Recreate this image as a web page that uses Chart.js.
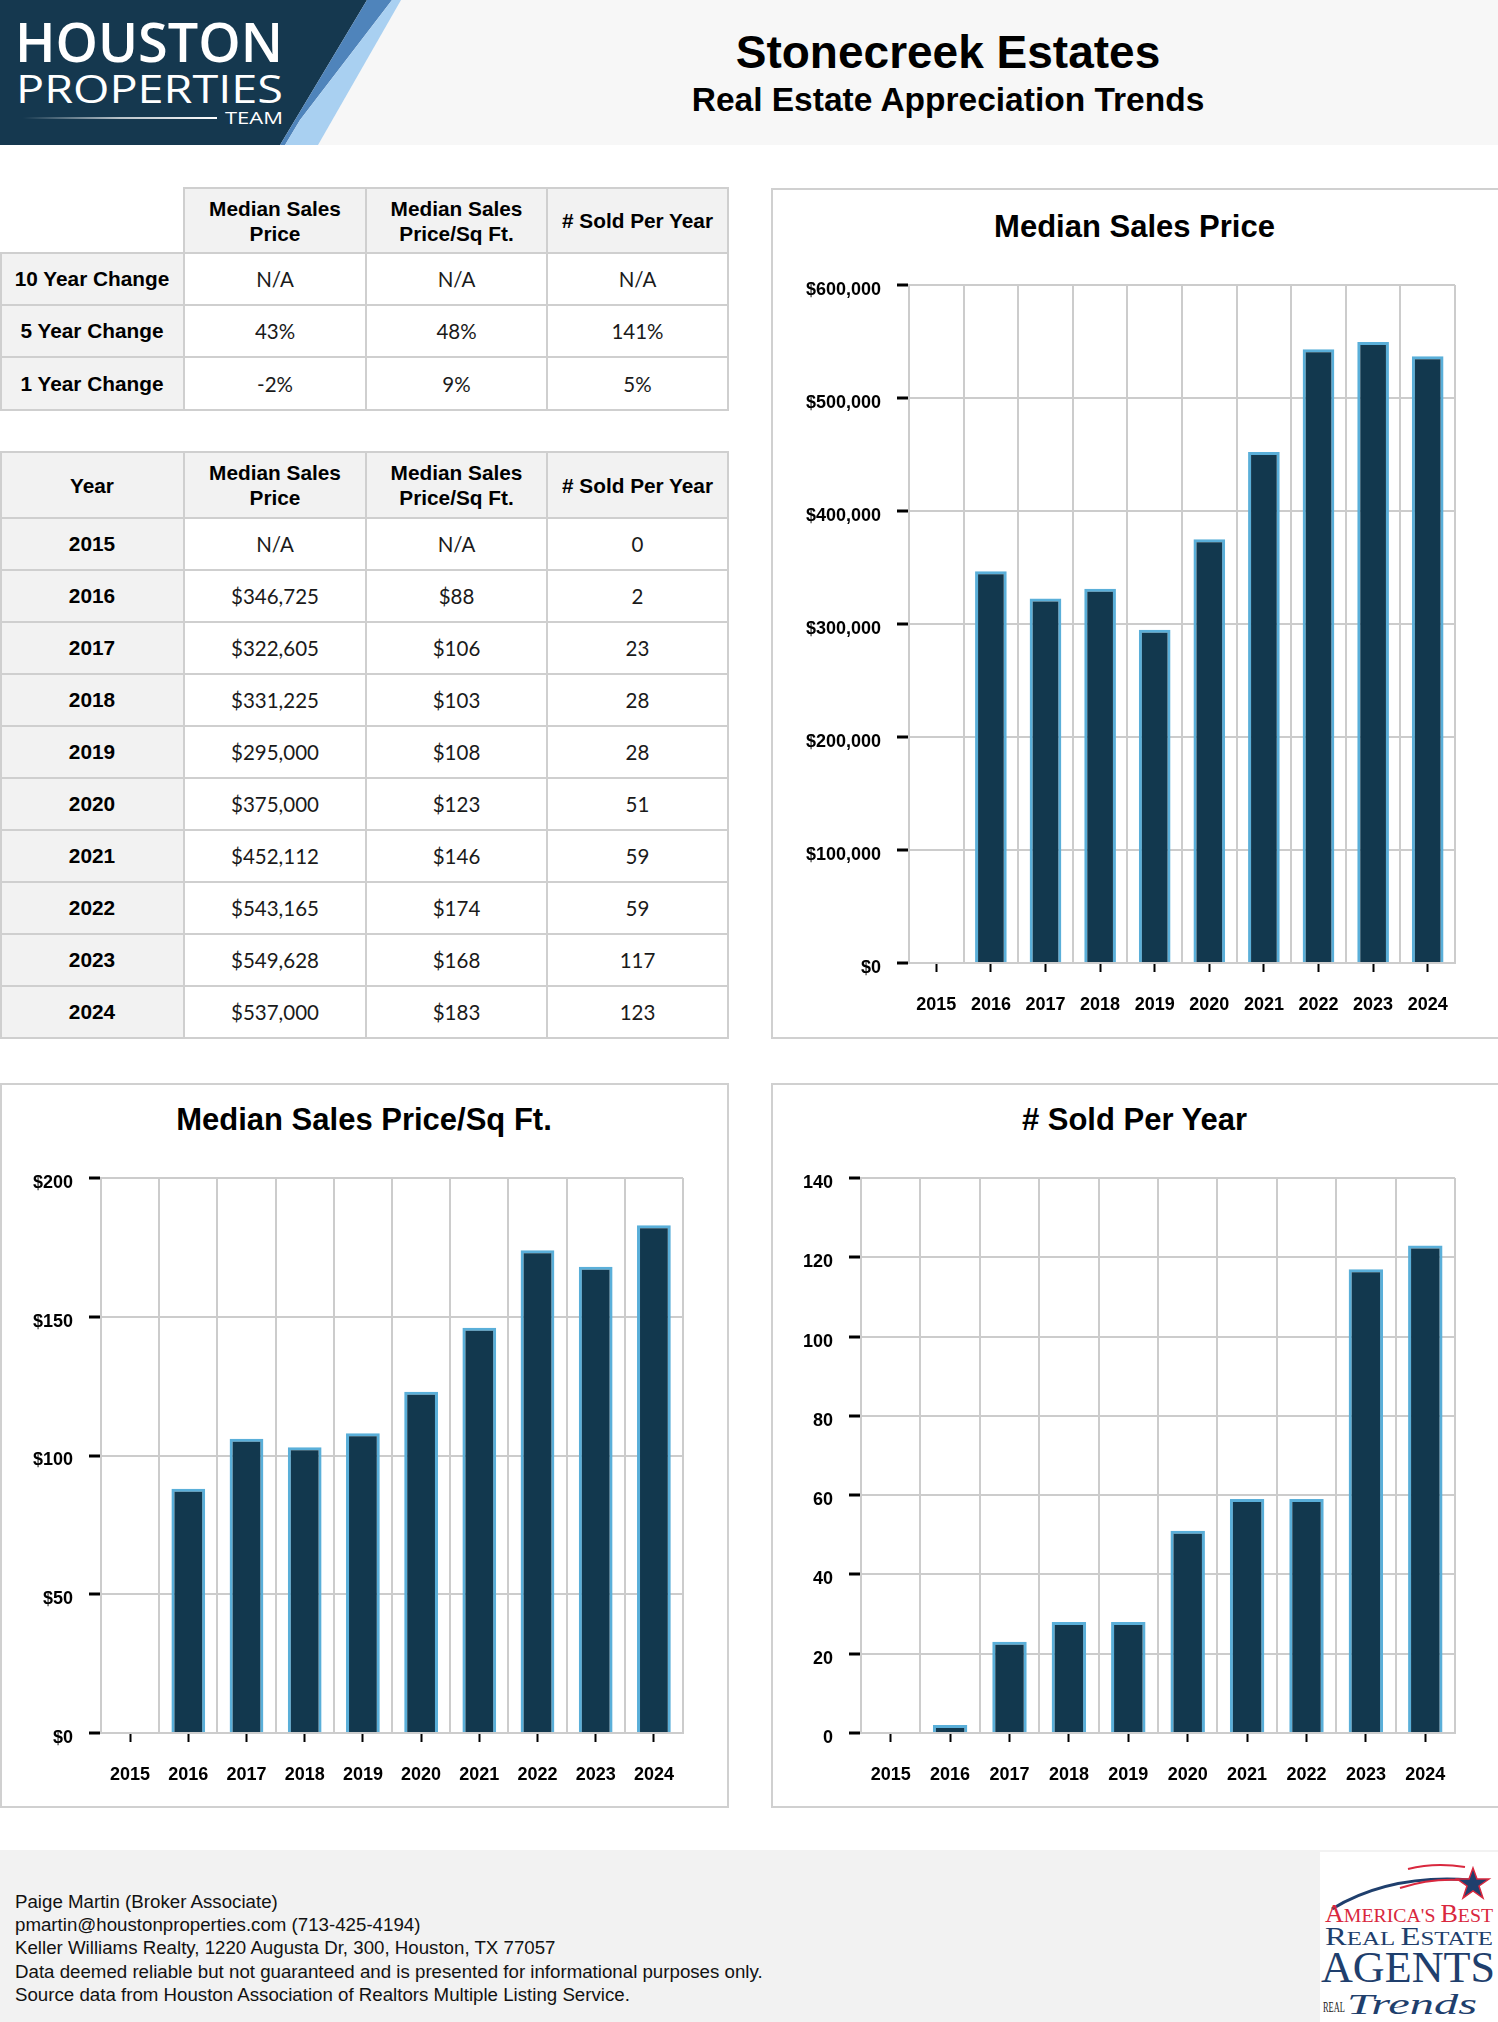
<!DOCTYPE html>
<html><head><meta charset="utf-8">
<script src="https://cdn.jsdelivr.net/npm/chart.js@4.4.1/dist/chart.umd.min.js"></script>
<style>
html,body{margin:0;padding:0;background:#fff;}
body{width:1498px;height:2022px;position:relative;overflow:hidden;font-family:"Liberation Sans",Arial,sans-serif;color:#000;}
.abs{position:absolute;}
.cell{position:absolute;display:flex;align-items:center;justify-content:center;text-align:center;box-sizing:border-box;}
.hd{font-weight:bold;font-size:20.8px;line-height:25px;color:#000;}
.lab{font-weight:bold;font-size:20.8px;color:#000;}
.val{font-family:Lato,"Liberation Sans",sans-serif;font-size:20.5px;color:#1a1a1a;}
.ln{position:absolute;background:#cfcfcf;}
.panel{position:absolute;border:2px solid #d0d0d0;box-sizing:border-box;background:#fff;}
.ptitle{position:absolute;font-weight:bold;font-size:31px;line-height:31px;text-align:center;color:#000;white-space:nowrap;}
#footer{left:0;top:1850px;width:1498px;height:172px;background:#f2f2f2;}
#foottext{left:15px;top:1890px;font-size:18.7px;line-height:23.2px;color:#111;white-space:nowrap;}
</style></head><body>

<div class="abs" style="left:0;top:0;width:1498px;height:145px;background:#f7f7f7;"></div>
<svg class="abs" style="left:0;top:0" width="402" height="145" viewBox="0 0 402 145">
  <defs>
    <linearGradient id="lg" x1="0" x2="1" y1="0" y2="0">
      <stop offset="0" stop-color="#ffffff" stop-opacity="0"/>
      <stop offset="0.5" stop-color="#ffffff" stop-opacity="0.7"/>
      <stop offset="1" stop-color="#ffffff" stop-opacity="1"/>
    </linearGradient>
  </defs>
  <polygon points="0,0 367,0 280,145 0,145" fill="#15384f"/>
  <polygon points="367,0 392,0 300,120 285,145 280,145" fill="#4f84bb"/>
  <polygon points="392,0 401,0 318,145 285,145 300,120" fill="#a9d0f1"/>
  <text x="15" y="62" font-family="'Open Sans',Lato,sans-serif" font-weight="600" font-size="54" fill="#fff" textLength="268" lengthAdjust="spacingAndGlyphs">HOUSTON</text>
  <text x="16" y="103" font-family="'Open Sans',Lato,sans-serif" font-weight="400" font-size="39" fill="#fff" textLength="267" lengthAdjust="spacingAndGlyphs">PROPERTIES</text>
  <rect x="23" y="117" width="194" height="2" fill="url(#lg)"/>
  <text x="225" y="124" font-family="'Open Sans',Lato,sans-serif" font-weight="400" font-size="17" fill="#fff" textLength="58" lengthAdjust="spacingAndGlyphs">TEAM</text>
</svg>

<div class="abs" style="left:400px;top:29px;width:1096px;text-align:center;font-weight:bold;font-size:46px;line-height:46px;">Stonecreek Estates</div>
<div class="abs" style="left:400px;top:83px;width:1096px;text-align:center;font-weight:bold;font-size:33.5px;line-height:33.5px;">Real Estate Appreciation Trends</div>

<div id="tables"></div>

<div class="panel" style="left:771px;top:188px;width:740px;height:851px;"></div>
<div class="panel" style="left:0px;top:1083px;width:729px;height:725px;"></div>
<div class="panel" style="left:771px;top:1083px;width:740px;height:725px;"></div>

<div class="ptitle" style="left:771px;top:211px;width:727px;">Median Sales Price</div>
<div class="ptitle" style="left:0px;top:1104px;width:728px;">Median Sales Price/Sq Ft.</div>
<div class="ptitle" style="left:771px;top:1104px;width:727px;"># Sold Per Year</div>

<canvas id="c1" width="727" height="850" style="position:absolute;left:771px;top:188px;"></canvas>
<canvas id="c2" width="728" height="724" style="position:absolute;left:0px;top:1083px;"></canvas>
<canvas id="c3" width="727" height="724" style="position:absolute;left:771px;top:1083px;"></canvas>

<div id="footer" class="abs"></div>
<div id="foottext" class="abs">Paige Martin (Broker Associate)<br>pmartin@houstonproperties.com (713-425-4194)<br>Keller Williams Realty, 1220 Augusta Dr, 300, Houston, TX 77057<br>Data deemed reliable but not guaranteed and is presented for informational purposes only.<br>Source data from Houston Association of Realtors Multiple Listing Service.</div>

<svg class="abs" style="left:1320px;top:1852px" width="178" height="170" viewBox="0 0 178 170">
  <rect width="178" height="170" fill="#ffffff"/>
  <path d="M12 57 Q 70 22 150 28" stroke="#1f3f6d" stroke-width="3" fill="none"/>
  <path d="M88 17 Q 115 10 145 15" stroke="#d9283e" stroke-width="2" fill="none"/>
  <path d="M80 36 Q 110 26 142 28" stroke="#d9283e" stroke-width="2" fill="none"/>
  <polygon points="153,16 157,27 169,27 159,34 163,46 153,39 143,46 147,34 137,27 149,27" fill="#1f3f6d" stroke="#d9283e" stroke-width="1.5"/>
  <text x="5" y="70" font-family="'Liberation Serif',serif" fill="#d9283e" textLength="168" lengthAdjust="spacingAndGlyphs"><tspan font-size="25">A</tspan><tspan font-size="19">MERICA'S </tspan><tspan font-size="25">B</tspan><tspan font-size="19">EST</tspan></text>
  <text x="5" y="93" font-family="'Liberation Serif',serif" fill="#1f3f6d" textLength="168" lengthAdjust="spacingAndGlyphs"><tspan font-size="25">R</tspan><tspan font-size="19">EAL </tspan><tspan font-size="25">E</tspan><tspan font-size="19">STATE</tspan></text>
  <text x="1" y="130" font-family="'Liberation Serif',serif" font-size="44" fill="#1f3f6d" textLength="174" lengthAdjust="spacingAndGlyphs">AGENTS</text>
  <text x="3" y="160" font-family="'Liberation Serif',serif" font-size="14" fill="#222" textLength="22" lengthAdjust="spacingAndGlyphs">REAL</text>
  <text x="27" y="162" font-family="'Liberation Serif',serif" font-style="italic" font-size="30" fill="#1f3f6d" textLength="130" lengthAdjust="spacingAndGlyphs">Trends</text>
</svg>

<script>
// ---------------- data ----------------
const years = ['2015','2016','2017','2018','2019','2020','2021','2022','2023','2024'];
const medianPrice = [null, 346725, 322605, 331225, 295000, 375000, 452112, 543165, 549628, 537000];
const pricePerSqFt = [null, 88, 106, 103, 108, 123, 146, 174, 168, 183];
const soldPerYear = [0, 2, 23, 28, 28, 51, 59, 59, 117, 123];

const changeLabels = ['10 Year Change', '5 Year Change', '1 Year Change'];
const changePrice = ['N/A', '43%', '-2%'];
const changeSqFt = ['N/A', '48%', '9%'];
const changeSold = ['N/A', '141%', '5%'];

const columnHeaders = ['Median Sales<br>Price', 'Median Sales<br>Price/Sq Ft.', '# Sold Per Year'];

const priceTicks = {max: 600000, step: 100000};
const sqftTicks = {max: 200, step: 50};
const soldTicks = {max: 140, step: 20};

// ---------------- tables ----------------
const tablesEl = document.getElementById('tables');
const colX = [0, 184, 366, 547, 728];
function addDiv(cls, l, t, w, h, html, bg){
  const d = document.createElement('div');
  d.className = cls;
  d.style.left = l + 'px'; d.style.top = t + 'px';
  d.style.width = w + 'px'; d.style.height = h + 'px';
  if (bg) d.style.background = bg;
  if (html !== undefined) d.innerHTML = html;
  tablesEl.appendChild(d);
  return d;
}
function hline(y, x1, x2){ addDiv('ln', x1, y - 1, x2 - x1 + 1, 2); }
function vline(x, y1, y2){ addDiv('ln', x === 0 ? 0 : x - 1, y1 - 1, 2, y2 - y1 + 2); }
const GRAY = '#f2f2f2';

// table 1
const t1Rows = [188, 253, 305, 357, 410];
for (let c = 1; c < 4; c++) addDiv('cell hd', colX[c], t1Rows[0], colX[c+1]-colX[c], t1Rows[1]-t1Rows[0], columnHeaders[c-1], GRAY);
const t1Data = [changePrice, changeSqFt, changeSold];
for (let r = 0; r < 3; r++) {
  addDiv('cell lab', colX[0], t1Rows[r+1], colX[1]-colX[0], t1Rows[r+2]-t1Rows[r+1], changeLabels[r], GRAY);
  for (let c = 0; c < 3; c++) addDiv('cell val', colX[c+1], t1Rows[r+1], colX[c+2]-colX[c+1], t1Rows[r+2]-t1Rows[r+1], t1Data[c][r]);
}
hline(t1Rows[0], colX[1], colX[4]);
for (let r = 1; r < t1Rows.length; r++) hline(t1Rows[r], 0, colX[4]);
vline(0, t1Rows[1], t1Rows[4]);
for (let c = 1; c < 5; c++) vline(colX[c], t1Rows[0], t1Rows[4]);

// table 2
const t2Rows = [452, 518];
for (let i = 0; i < years.length; i++) t2Rows.push(518 + 52 * (i + 1));
const fmtPrice = v => v === null ? 'N/A' : '$' + v.toLocaleString('en-US');
const fmtSq = v => v === null ? 'N/A' : '$' + v;
addDiv('cell hd', colX[0], t2Rows[0], colX[1]-colX[0], t2Rows[1]-t2Rows[0], 'Year', GRAY);
for (let c = 1; c < 4; c++) addDiv('cell hd', colX[c], t2Rows[0], colX[c+1]-colX[c], t2Rows[1]-t2Rows[0], columnHeaders[c-1], GRAY);
for (let i = 0; i < years.length; i++) {
  const top = t2Rows[i+1], h = t2Rows[i+2] - top;
  addDiv('cell lab', colX[0], top, colX[1]-colX[0], h, years[i], GRAY);
  addDiv('cell val', colX[1], top, colX[2]-colX[1], h, fmtPrice(medianPrice[i]));
  addDiv('cell val', colX[2], top, colX[3]-colX[2], h, fmtSq(pricePerSqFt[i]));
  addDiv('cell val', colX[3], top, colX[4]-colX[3], h, String(soldPerYear[i]));
}
for (let r = 0; r < t2Rows.length; r++) hline(t2Rows[r], 0, colX[4]);
for (let c = 0; c < 5; c++) vline(colX[c], t2Rows[0], t2Rows[t2Rows.length-1]);

// ---------------- charts ----------------
const BAR_FILL = '#12384e';
const BAR_EDGE = '#5aafd9';
const GRID = '#cccccc';
const tickFont = {family: "'Liberation Sans', Arial, sans-serif", size: 18, weight: 'bold'};

function buildChart(id, values, cfg) {
  const canvas = document.getElementById(id);
  const X2H = 50;
  const padT = cfg.area.top - cfg.canvas.top;
  const padR = (cfg.canvas.left + canvas.width) - cfg.area.right;
  const padB = (cfg.canvas.top + canvas.height) - cfg.area.bottom - X2H;
  const yW = cfg.area.left - cfg.canvas.left;
  return new Chart(canvas, {
    type: 'bar',
    data: {
      labels: years,
      datasets: [{
        data: values,
        backgroundColor: BAR_FILL,
        borderColor: BAR_EDGE,
        borderWidth: 3,
        barPercentage: 0.58,
        categoryPercentage: 1,
        xAxisID: 'x', yAxisID: 'y'
      }]
    },
    options: {
      responsive: false,
      animation: false,
      events: [],
      layout: {padding: {left: 0, top: padT, right: padR, bottom: padB}},
      plugins: {legend: {display: false}, title: {display: false}, tooltip: {enabled: false}},
      scales: {
        x: {
          type: 'category', position: 'bottom', offset: true,
          grid: {offset: true, color: GRID, lineWidth: 2, drawTicks: false},
          border: {display: true, color: GRID, width: 2},
          ticks: {display: false},
          afterFit(s) { s.height = 0; }
        },
        x2: {
          type: 'category', position: 'bottom', offset: true,
          grid: {offset: false, drawOnChartArea: false, drawTicks: true, tickLength: 9, tickWidth: 2, tickColor: '#000', color: '#000'},
          border: {display: false},
          ticks: {font: tickFont, color: '#000', padding: cfg.xPad, maxRotation: 0, autoSkip: false},
          afterFit(s) { s.height = X2H; }
        },
        y: {
          type: 'linear', min: 0, max: cfg.ticks.max, z: 1,
          grid: {color: GRID, lineWidth: 2, tickLength: 12, tickWidth: 3, tickColor: '#000'},
          border: {display: true, color: GRID, width: 2},
          ticks: {stepSize: cfg.ticks.step, font: tickFont, color: '#000', padding: 16, labelOffset: 5, callback: cfg.fmt},
          afterFit(s) { s.width = yW; }
        }
      }
    }
  });
}

buildChart('c1', medianPrice, {
  canvas: {left: 771, top: 188},
  area: {left: 909, right: 1455, top: 285, bottom: 963},
  ticks: priceTicks, xPad: 22,
  fmt: v => '$' + Number(v).toLocaleString('en-US')
});
buildChart('c2', pricePerSqFt, {
  canvas: {left: 0, top: 1083},
  area: {left: 101, right: 683, top: 1178, bottom: 1733},
  ticks: sqftTicks, xPad: 22,
  fmt: v => '$' + v
});
buildChart('c3', soldPerYear, {
  canvas: {left: 771, top: 1083},
  area: {left: 861, right: 1455, top: 1178, bottom: 1733},
  ticks: soldTicks, xPad: 22,
  fmt: v => String(v)
});
</script>
</body></html>
